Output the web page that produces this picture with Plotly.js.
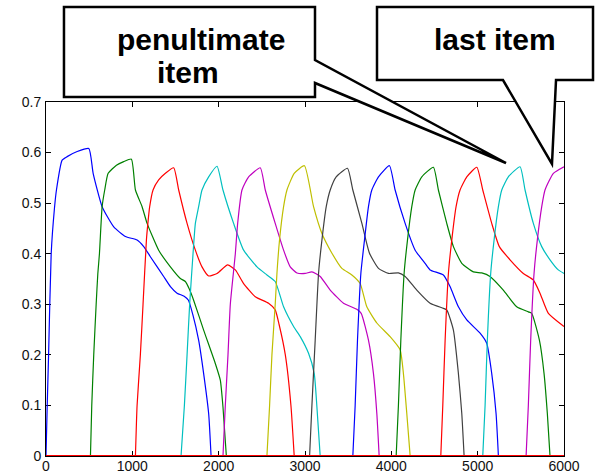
<!DOCTYPE html>
<html>
<head>
<meta charset="utf-8">
<script src="https://cdn.plot.ly/plotly-3.0.1.min.js"></script>
<style>html,body{margin:0;padding:0;background:#fff;}#chart{width:595px;height:474px;}</style>
</head>
<body>
<div id="chart"></div>
<script>
// ---- data ----
const xTicks = [0, 1000, 2000, 3000, 4000, 5000, 6000];
const yTicks = [0, 0.1, 0.2, 0.3, 0.4, 0.5, 0.6, 0.7];

const blue1X = [0, 14, 30, 60, 98, 121, 187, 245, 361, 496, 546, 650, 785, 920, 1055, 1132, 1209, 1363, 1441, 1518, 1600, 1650, 1700, 1768, 1826, 1884, 1912];
const blue1Y = [0, 0.10, 0.20, 0.40, 0.49, 0.526, 0.585, 0.592, 0.602, 0.608, 0.559, 0.493, 0.453, 0.434, 0.427, 0.414, 0.394, 0.355, 0.335, 0.322, 0.316, 0.308, 0.28, 0.229, 0.163, 0.084, 0];

const green2X = [515, 530, 553, 581, 600, 619, 650, 680, 720, 816, 900, 989, 1036, 1113, 1171, 1305, 1441, 1556, 1614, 1660, 1710, 1826, 1961, 2019, 2050, 2089];
const green2Y = [0, 0.1, 0.2, 0.3, 0.36, 0.4, 0.493, 0.526, 0.559, 0.575, 0.582, 0.587, 0.526, 0.493, 0.46, 0.407, 0.374, 0.351, 0.345, 0.33, 0.308, 0.249, 0.183, 0.15, 0.097, 0];

const red3X = [1036, 1055, 1093, 1124, 1163, 1180, 1201, 1240, 1305, 1383, 1479, 1537, 1634, 1730, 1807, 1884, 1981, 2104, 2193, 2289, 2424, 2578, 2655, 2700, 2772, 2837, 2875];
const red3Y = [0, 0.1, 0.2, 0.3, 0.427, 0.46, 0.493, 0.526, 0.546, 0.559, 0.570, 0.526, 0.46, 0.407, 0.374, 0.356, 0.361, 0.378, 0.368, 0.341, 0.315, 0.302, 0.289, 0.26, 0.2, 0.1, 0];

const cyan4X = [1564, 1603, 1634, 1664, 1703, 1730, 1768, 1807, 1884, 1981, 2050, 2173, 2289, 2444, 2559, 2655, 2752, 2868, 2945, 3041, 3107, 3138, 3176];
const cyan4Y = [0, 0.1, 0.2, 0.3, 0.4, 0.46, 0.493, 0.526, 0.552, 0.573, 0.526, 0.46, 0.407, 0.374, 0.358, 0.345, 0.295, 0.256, 0.236, 0.203, 0.163, 0.097, 0];

const magenta5X = [2050, 2077, 2108, 2135, 2193, 2220, 2270, 2347, 2482, 2540, 2655, 2752, 2829, 2907, 3003, 3080, 3176, 3292, 3446, 3600, 3651, 3735, 3793, 3832, 3859];
const magenta5Y = [0, 0.1, 0.2, 0.3, 0.4, 0.46, 0.526, 0.552, 0.570, 0.526, 0.46, 0.407, 0.374, 0.362, 0.361, 0.364, 0.355, 0.328, 0.302, 0.29, 0.282, 0.229, 0.163, 0.084, 0];

const yellow6X = [2559, 2590, 2617, 2655, 2675, 2705, 2752, 2791, 2875, 2993, 3099, 3196, 3312, 3427, 3543, 3639, 3716, 3832, 3986, 4102, 4140, 4179, 4218];
const yellow6Y = [0, 0.1, 0.2, 0.3, 0.361, 0.427, 0.493, 0.526, 0.559, 0.574, 0.493, 0.44, 0.401, 0.371, 0.358, 0.341, 0.295, 0.263, 0.236, 0.21, 0.163, 0.084, 0];

const gray7X = [3053, 3080, 3118, 3157, 3196, 3246, 3292, 3361, 3492, 3554, 3659, 3747, 3851, 3967, 4082, 4160, 4295, 4449, 4603, 4642, 4719, 4777, 4816, 4843];
const gray7Y = [0, 0.1, 0.229, 0.361, 0.427, 0.493, 0.526, 0.552, 0.569, 0.526, 0.46, 0.401, 0.371, 0.361, 0.362, 0.355, 0.328, 0.302, 0.292, 0.289, 0.249, 0.163, 0.084, 0];

const blue8X = [3554, 3581, 3608, 3647, 3689, 3735, 3774, 3851, 3978, 4044, 4160, 4276, 4391, 4449, 4603, 4680, 4777, 4874, 5028, 5105, 5163, 5213, 5240];
const blue8Y = [0, 0.1, 0.229, 0.361, 0.427, 0.493, 0.526, 0.552, 0.574, 0.526, 0.46, 0.407, 0.381, 0.368, 0.358, 0.335, 0.295, 0.269, 0.243, 0.223, 0.163, 0.084, 0];

const green9X = [4056, 4082, 4110, 4148, 4187, 4237, 4276, 4353, 4487, 4545, 4642, 4719, 4816, 4950, 5047, 5143, 5297, 5452, 5587, 5626, 5715, 5769, 5807, 5838];
const green9Y = [0, 0.1, 0.229, 0.361, 0.427, 0.493, 0.526, 0.552, 0.571, 0.526, 0.46, 0.414, 0.381, 0.364, 0.362, 0.355, 0.328, 0.295, 0.285, 0.282, 0.229, 0.163, 0.084, 0];

const red10X = [4573, 4596, 4623, 4661, 4700, 4750, 4796, 4874, 4990, 5059, 5163, 5251, 5375, 5529, 5645, 5722, 5819, 6000];
const red10Y = [0, 0.1, 0.229, 0.361, 0.427, 0.493, 0.526, 0.552, 0.571, 0.526, 0.46, 0.414, 0.388, 0.361, 0.348, 0.322, 0.282, 0.256];

const cyan11X = [5059, 5086, 5112, 5151, 5190, 5240, 5279, 5355, 5491, 5549, 5645, 5742, 5838, 5934, 6000];
const cyan11Y = [0, 0.1, 0.229, 0.361, 0.427, 0.493, 0.526, 0.552, 0.572, 0.526, 0.46, 0.414, 0.388, 0.368, 0.361];

const magenta12X = [5561, 5587, 5614, 5653, 5691, 5742, 5780, 5877, 6000];
const magenta12Y = [0, 0.1, 0.229, 0.361, 0.427, 0.493, 0.526, 0.559, 0.572];

const baseX = [0, 6000];
const baseY = [0, 0];

const calloutTexts = ['penultimate', 'item', 'last item'];

// ---- styling ----
const C = {
  b: '#0000ff', g: '#008000', r: '#ff0000', c: '#00bfbf',
  m: '#bf00bf', y: '#bfbf00', k: '#404040'
};
const series = [
  [blue1X, blue1Y, C.b], [green2X, green2Y, C.g], [red3X, red3Y, C.r],
  [cyan4X, cyan4Y, C.c], [magenta5X, magenta5Y, C.m], [yellow6X, yellow6Y, C.y],
  [gray7X, gray7Y, C.k], [blue8X, blue8Y, C.b], [green9X, green9Y, C.g],
  [red10X, red10Y, C.r], [cyan11X, cyan11Y, C.c], [magenta12X, magenta12Y, C.m]
];
const traces = series.map(s => ({
  x: s[0], y: s[1], type: 'scatter', mode: 'lines',
  line: {color: s[2], width: 1.2, shape: 'spline', smoothing: 0.5},
  hoverinfo: 'skip', showlegend: false
}));
traces.push({x: baseX, y: baseY, type: 'scatter', mode: 'lines',
  line: {color: C.r, width: 2}, hoverinfo: 'skip', showlegend: false});

// pixel -> paper helpers for the callouts
const M = {l: 46, r: 31, t: 102, b: 18};
const W = 595, H = 474, PW = W - M.l - M.r, PH = H - M.t - M.b;
const px = v => (v - M.l) / PW;
const py = v => (H - M.b - v) / PH;
function pathOf(pts) {
  return 'M ' + pts.map(p => px(p[0]).toFixed(4) + ',' + py(p[1]).toFixed(4)).join(' L ') + ' Z';
}
const box1 = [[64,7],[315,7],[315,60],[506,163],[315,83],[315,97],[64,97]];
const box2 = [[377,7],[593,7],[593,80],[556,80],[552,164],[503,80],[377,80]];

const font = {family: 'Liberation Sans, Arial, sans-serif', size: 30, color: '#000', weight: 'bold'};
const tickFont = {family: 'Liberation Sans, Arial, sans-serif', size: 14, color: '#111'};

const layout = {
  width: W, height: H,
  margin: M,
  paper_bgcolor: '#fff', plot_bgcolor: '#fff',
  showlegend: false,
  xaxis: {
    range: [0, 6000], tickvals: xTicks, ticktext: xTicks.map(String),
    ticks: 'inside', ticklen: 5, tickcolor: '#000', tickwidth: 1,
    showline: true, linecolor: '#000', linewidth: 1, mirror: 'allticks',
    showgrid: false, zeroline: false, layer: 'below traces',
    ticklabelstandoff: -3, tickfont: tickFont
  },
  yaxis: {
    range: [0, 0.7], tickvals: yTicks, ticktext: yTicks.map(v => String(v)),
    ticks: 'inside', ticklen: 5, tickcolor: '#000', tickwidth: 1,
    showline: true, linecolor: '#000', linewidth: 1, mirror: 'allticks',
    showgrid: false, zeroline: false, layer: 'below traces',
    ticklabelstandoff: 1, tickfont: tickFont
  },
  shapes: [
    {type: 'path', xref: 'paper', yref: 'paper', path: pathOf(box1), fillcolor: '#fff',
     line: {color: '#000', width: 2.5}, layer: 'above'},
    {type: 'path', xref: 'paper', yref: 'paper', path: pathOf(box2), fillcolor: '#fff',
     line: {color: '#000', width: 2.5}, layer: 'above'}
  ],
  annotations: [
    {text: calloutTexts[0], xref: 'paper', yref: 'paper', x: px(115), y: py(39),
     xanchor: 'left', yanchor: 'middle', showarrow: false, font: font},
    {text: calloutTexts[1], xref: 'paper', yref: 'paper', x: px(155), y: py(73),
     xanchor: 'left', yanchor: 'middle', showarrow: false, font: font},
    {text: calloutTexts[2], xref: 'paper', yref: 'paper', x: px(432), y: py(39),
     xanchor: 'left', yanchor: 'middle', showarrow: false, font: font}
  ]
};

Plotly.newPlot('chart', traces, layout, {staticPlot: true, displayModeBar: false});
</script>
</body>
</html>
